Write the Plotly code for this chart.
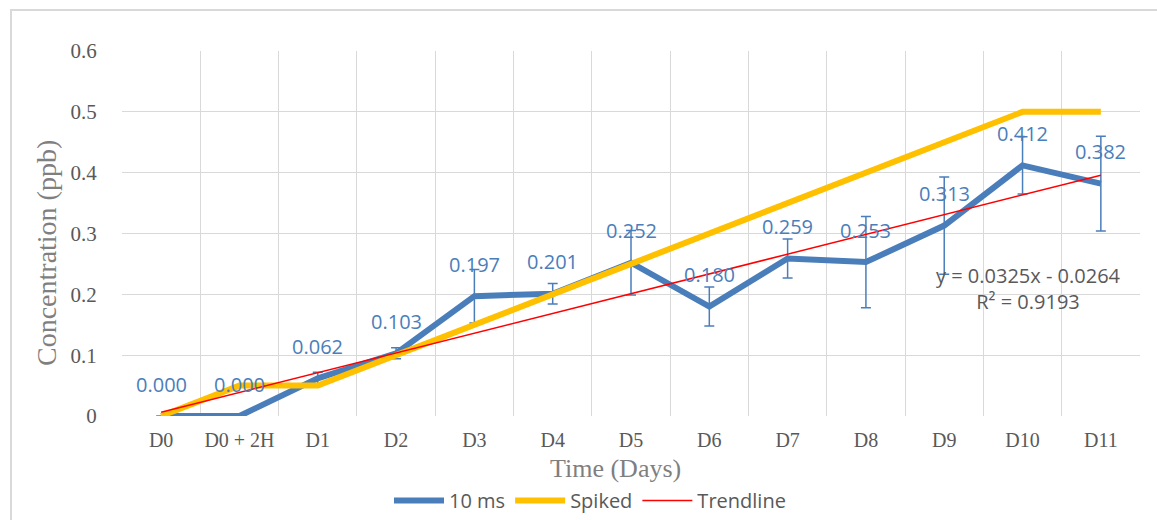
import numpy as np
import plotly.graph_objects as go

categories = ["D0", "D0 + 2H", "D1", "D2", "D3", "D4", "D5", "D6", "D7", "D8", "D9", "D10", "D11"]
ms10 = [0.000, 0.000, 0.062, 0.103, 0.197, 0.201, 0.252, 0.180, 0.259, 0.253, 0.313, 0.412, 0.382]
ms10_err = [0.0, 0.0, 0.010, 0.009, 0.044, 0.017, 0.053, 0.032, 0.032, 0.075, 0.080, 0.047, 0.078]
spiked = [0.00, 0.05, 0.05, 0.10, 0.15, 0.20, 0.25, 0.30, 0.35, 0.40, 0.45, 0.50, 0.50]
y_ticks = [0, 0.1, 0.2, 0.3, 0.4, 0.5, 0.6]
trend_text = "y = 0.0325x - 0.0264<br>R² = 0.9193"

BLUE = "#4A7EBB"
YELLOW = "#FFC000"
RED = "#FF0000"
GRID = "#D9D9D9"
TICK = "#595959"
TITLE = "#7F7F7F"

W, H = 1157, 520
ML, MR, MT = 122, 17, 51
PLOT_BOTTOM = 416  # pixel row of y=0
AREA_H = H - MT  # paper height (bottom margin 0)


def py(p):
    """pixel row -> paper y (paper spans MT..H)"""
    return (H - p) / AREA_H


def px(p):
    return (p - ML) / (W - ML - MR)


xpos = list(range(len(categories)))
# Excel linear trendline: x = 1..n
coef = np.polyfit(np.arange(1, len(ms10) + 1), ms10, 1)
trend = list(np.polyval(coef, np.arange(1, len(ms10) + 1)))

fig = go.Figure()
fig.add_trace(go.Scatter(
    x=xpos, y=ms10, mode="lines", name="10 ms",
    line=dict(color=BLUE, width=6),
    error_y=dict(type="data", array=ms10_err, visible=True, color=BLUE, thickness=1.5, width=5),
))
fig.add_trace(go.Scatter(
    x=xpos, y=spiked, mode="lines", name="Spiked",
    line=dict(color=YELLOW, width=6),
))
fig.add_trace(go.Scatter(
    x=xpos, y=trend, mode="lines", name="Trendline",
    line=dict(color=RED, width=1.5),
))

for xi, v in zip(xpos, ms10):
    fig.add_annotation(x=xi, y=v, text=f"{v:.3f}", showarrow=False, yshift=32,
                       font=dict(family="Open Sans", size=20, color=BLUE))

fig.add_annotation(x=11.08, y=0.21, text=trend_text, showarrow=False, align="center",
                   font=dict(family="Open Sans", size=20, color=TICK))

# axis titles
fig.add_annotation(xref="paper", yref="paper", x=px(615), y=py(468), text="Time (Days)",
                   showarrow=False, xanchor="center", yanchor="middle",
                   font=dict(family="Liberation Serif", size=26, color=TITLE))
fig.add_annotation(xref="paper", yref="paper", x=px(46), y=py(253), text="Concentration (ppb)",
                   showarrow=False, xanchor="center", yanchor="middle", textangle=-90,
                   font=dict(family="Liberation Serif", size=28, color=TITLE))

# outer chart border
fig.add_shape(type="rect", xref="paper", yref="paper", x0=px(11), x1=px(1170), y0=py(540), y1=py(10),
              line=dict(color=GRID, width=2), fillcolor="rgba(0,0,0,0)", layer="below")

fig.update_layout(
    width=W, height=H,
    margin=dict(l=ML, r=MR, t=MT, b=0),
    paper_bgcolor="white", plot_bgcolor="white",
    showlegend=True,
    legend=dict(orientation="h", x=px(590), xanchor="center", y=py(520), yanchor="bottom",
                font=dict(family="Open Sans", size=20, color=TICK), traceorder="normal",
                itemwidth=50, tracegroupgap=0, bgcolor="rgba(0,0,0,0)"),
    xaxis=dict(
        range=[-0.5, 12.5], tickmode="array", tickvals=xpos, ticktext=categories,
        showgrid=False, zeroline=False, showline=False, automargin=False,
        ticks="outside", ticklen=6, tickcolor="rgba(0,0,0,0)",
        tickfont=dict(family="Liberation Serif", size=20, color=TICK),
        minor=dict(tickmode="linear", tick0=-0.5, dtick=1, showgrid=True, gridcolor=GRID, gridwidth=1.3),
    ),
    yaxis=dict(
        domain=[py(PLOT_BOTTOM), 1],
        range=[0, 0.6], tickmode="array", tickvals=y_ticks,
        ticktext=[f"{t:g}" for t in y_ticks],
        showgrid=True, gridcolor=GRID, gridwidth=1.3, zeroline=False, showline=False, automargin=False,
        ticks="outside", ticklen=20, tickcolor="rgba(0,0,0,0)",
        tickfont=dict(family="Liberation Serif", size=21, color=TICK),
    ),
)

fig.write_html("out.html")
